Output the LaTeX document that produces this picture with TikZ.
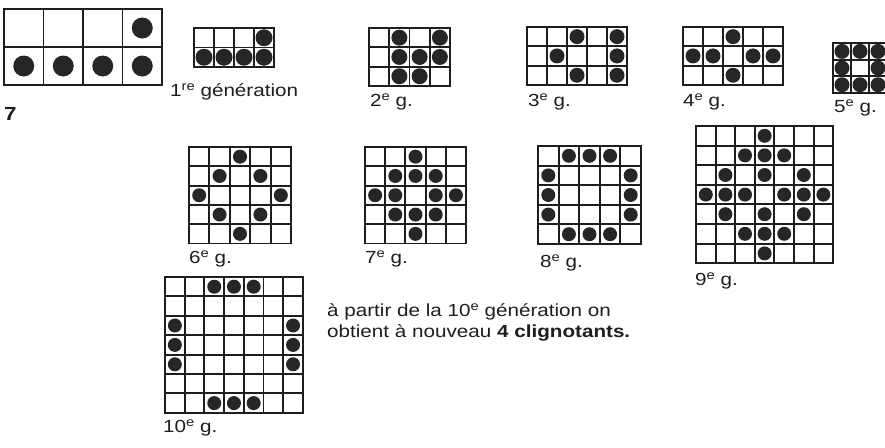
\documentclass[tikz,border=0pt]{standalone}
\usepackage{fontspec}
\setmainfont[FakeStretch=1.18]{Liberation Sans}
\usepackage{tikz}
\definecolor{ink}{RGB}{30,30,30}
\definecolor{dotgrey}{RGB}{38,38,38}
% ordinal suffix (1re, 2e, ...)
\newcommand{\ord}[1]{\raisebox{6pt}{\fontsize{12.5}{12.5}\selectfont #1}}
% one generation: x, y, cols, rows, cell w, cell h, dot radius, live cells col/row
\newcommand{\gengrid}[8]{%
  \begin{scope}[shift={(#1,#2)}, x=#5pt, y=-#6pt]
    \foreach \i in {0,...,#3} \draw[gridline] (\i,0) -- (\i,#4);
    \foreach \j in {0,...,#4} \draw[gridline] (0,\j) -- (#3,\j);
    \foreach \c/\r in {#8} \fill[cell] (\c-0.5,\r-0.5) circle[radius=#7pt];
  \end{scope}}

\begin{document}
\begin{tikzpicture}[x=1pt, y=-1pt, font=\fontsize{17.5}{20}\selectfont, text=ink,
    gridline/.style={ink, line width=1.9pt, line cap=rect},
    cell/.style={fill=dotgrey},
    genlabel/.style={anchor=base west, inner sep=0pt}]
  \useasboundingbox[fill=white] (0,0) rectangle (885,447);

  % starting pattern and first generations
  \gengrid{4}{9}{4}{2}{39.5}{38}{10.5}{4/1,1/2,2/2,3/2,4/2}
  \gengrid{194}{28}{4}{2}{20}{19.5}{8.5}{4/1,1/2,2/2,3/2,4/2}
  \gengrid{369}{28}{4}{3}{20.25}{19.3}{8}{2/1,4/1,2/2,3/2,4/2,2/3,3/3}
  \gengrid{527}{27}{5}{3}{20}{19.3}{7.5}{3/1,5/1,2/2,5/2,3/3,5/3}
  \gengrid{683}{27}{5}{3}{20}{19.3}{7.5}{3/1,1/2,2/2,4/2,5/2,3/3}
  \gengrid{833}{43}{3}{3}{18}{16.7}{7.5}{1/1,2/1,3/1,1/2,3/2,1/3,2/3,3/3}
  % second row
  \gengrid{189}{147}{5}{5}{20.4}{19.3}{7}{3/1,2/2,4/2,1/3,5/3,2/4,4/4,3/5}
  \gengrid{365}{147}{5}{5}{20.2}{19.3}{7}{3/1,2/2,3/2,4/2,1/3,2/3,4/3,5/3,2/4,3/4,4/4,3/5}
  \gengrid{538}{146}{5}{5}{20.6}{19.6}{7}{2/1,3/1,4/1,1/2,5/2,1/3,5/3,1/4,5/4,2/5,3/5,4/5}
  \gengrid{696}{126}{7}{7}{19.6}{19.6}{7}{4/1,3/2,4/2,5/2,2/3,4/3,6/3,1/4,2/4,3/4,5/4,6/4,7/4,2/5,4/5,6/5,3/6,4/6,5/6,4/7}
  % tenth generation
  \gengrid{165}{277}{7}{7}{19.7}{19.4}{7}{3/1,4/1,5/1,1/3,7/3,1/4,7/4,1/5,7/5,3/7,4/7,5/7}

  % labels
  \node[genlabel, font=\bfseries\fontsize{19}{19}\selectfont] (fig) at (4,120) {7};
  \node[genlabel] (g1) at (170,96) {1\ord{re} génération};
  \node[genlabel] (g2) at (370,106) {2\ord{e} g.};
  \node[genlabel] (g3) at (528,106) {3\ord{e} g.};
  \node[genlabel] (g4) at (683,106) {4\ord{e} g.};
  \node[genlabel] (g5) at (834,112) {5\ord{e} g.};
  \node[genlabel] (g6) at (189,263) {6\ord{e} g.};
  \node[genlabel] (g7) at (365,263) {7\ord{e} g.};
  \node[genlabel] (g8) at (540,267) {8\ord{e} g.};
  \node[genlabel] (g9) at (695,285) {9\ord{e} g.};
  \node[genlabel] (g10) at (163,432) {10\ord{e} g.};
  \node[genlabel] (note1) at (327,316) {à partir de la 10\ord{e} génération on};
  \node[genlabel] (note2) at (327,337) {obtient à nouveau \textbf{4 clignotants.}};
\end{tikzpicture}
\end{document}
